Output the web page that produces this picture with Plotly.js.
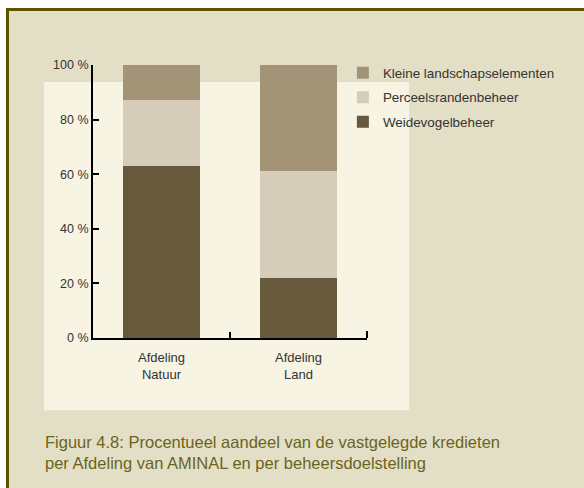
<!DOCTYPE html>
<html>
<head>
<meta charset="utf-8">
<script src="https://cdn.plot.ly/plotly-3.0.1.min.js"></script>
<style>
  html, body { margin: 0; padding: 0; background: #ffffff; }
  #frame { position: absolute; left: 6px; top: 8px; width: 578px; height: 480px;
           box-sizing: border-box; border-top: 3px solid #5c5200; border-left: 3px solid #5c5200;
           background: #e3dfc7; }
  #chart { position: absolute; left: 0; top: 0; width: 584px; height: 488px; }
</style>
</head>
<body>
<div id="frame"></div>
<div id="chart"></div>
<script>
const categories = ["Afdeling<br>Natuur", "Afdeling<br>Land"];
const seriesNames = ["Weidevogelbeheer", "Perceelsrandenbeheer", "Kleine landschapselementen"];
const weidevogel = [63, 22];
const perceelsranden = [24, 39];
const kleineLandschap = [13, 39];
const yTickVals = [0, 20, 40, 60, 80, 100];
const yTickLabels = ["0 %", "20 %", "40 %", "60 %", "80 %", "100 %"];
const caption = "Figuur 4.8: Procentueel aandeel van de vastgelegde kredieten<br>per Afdeling van AMINAL en per beheersdoelstelling";

const colors = ["#675a3c", "#d5cdba", "#a49477"];
const values = [weidevogel, perceelsranden, kleineLandschap];

const traces = seriesNames.map((name, i) => ({
  type: "bar",
  name: name,
  x: categories,
  y: values[i],
  width: 0.56,
  marker: { color: colors[i], line: { width: 0 } },
  legendgroup: "g" + i,
  legendrank: 10 - i,
  hoverinfo: "skip"
}));

const font = "Liberation Sans, Arial, Helvetica, sans-serif";

const layout = {
  width: 584, height: 488,
  margin: { l: 93, r: 217, t: 65, b: 150, pad: 0 },
  paper_bgcolor: "rgba(0,0,0,0)",
  plot_bgcolor: "rgba(0,0,0,0)",
  barmode: "stack",
  showlegend: true,
  font: { family: font, size: 12.5, color: "#333333" },
  xaxis: {
    type: "category",
    range: [-0.5, 1.5],
    showline: true, linecolor: "#000000", linewidth: 2,
    ticks: "inside", ticklen: 6, tickwidth: 2, tickcolor: "#000000",
    tickson: "boundaries",
    ticklabelstandoff: 6,
    showgrid: false, zeroline: false,
    tickfont: { family: font, size: 13, color: "#333333" }
  },
  yaxis: {
    range: [0, 100],
    tickvals: yTickVals, ticktext: yTickLabels,
    showline: true, linecolor: "#000000", linewidth: 2,
    ticks: "inside", ticklen: 6, tickwidth: 2, tickcolor: "#000000",
    showgrid: false, zeroline: false,
    tickfont: { family: font, size: 12.5, color: "#333333" }
  },
  legend: {
    x: 0.912, xanchor: "left", y: 1.027, yanchor: "top",
    traceorder: "grouped", tracegroupgap: 4,
    bgcolor: "rgba(0,0,0,0)",
    font: { family: font, size: 13.4, color: "#333333" }
  },
  shapes: [{
    type: "rect", layer: "below", xref: "paper", yref: "paper",
    x0: -0.1788, x1: 1.1533, y0: -0.2651, y1: 0.9378,
    fillcolor: "#f7f4e3", line: { width: 0 }
  }, {
    type: "line", layer: "above", xref: "paper", yref: "paper",
    x0: 1, x1: 1, y0: 0, y1: 7 / 273.5,
    line: { color: "#000000", width: 2 }
  }],
  annotations: [{
    xref: "paper", yref: "paper",
    x: (43 - 93) / 274, y: (338.5 - 432) / 273.5,
    xanchor: "left", yanchor: "top", align: "left", showarrow: false,
    text: caption,
    font: { family: font, size: 16.5, color: "#6b6420" }
  }]
};

Plotly.newPlot("chart", traces, layout, { displayModeBar: false, staticPlot: true });
</script>
</body>
</html>
